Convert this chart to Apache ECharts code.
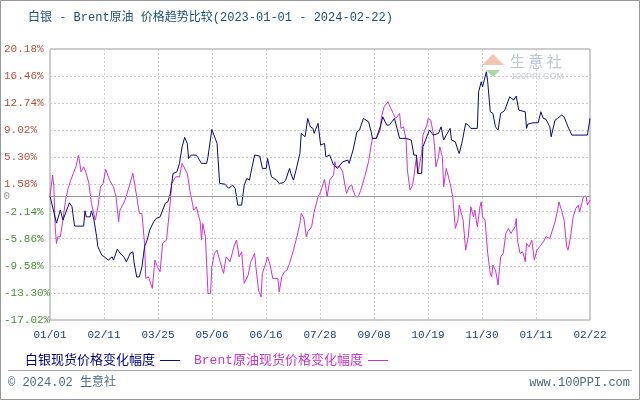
<!DOCTYPE html>
<html>
<head>
<meta charset="utf-8">
<script src="https://cdn.jsdelivr.net/npm/echarts@6/dist/echarts.min.js"></script>
<style>
html,body{margin:0;padding:0;background:#fff;}
#chart{width:640px;height:400px;}
</style>
</head>
<body>
<div id="chart"></div>
<script>
// x values: days since 2023-01-01 (axis runs 2023-01-01 .. 2024-02-22 = day 417)
var xTickLabels = ['01/01','02/11','03/25','05/06','06/16','07/28','09/08','10/19','11/30','01/11','02/22'];
var yMin = -17.02, yMax = 20.18, yStep = 3.72;

var silverName = '白银现货价格变化幅度';
var brentName = 'Brent原油现货价格变化幅度';

var silverDay = [0,1,5,6,8,10,12,15,17,18,19,26,27,28,31,32,34,36,37,40,42,45,48,49,52,54,57,59,62,64,65,67,69,71,73,75,77,80,82,85,89,91,93,95,98,100,102,104,106,107,109,113,117,121,122,125,126,129,131,135,138,141,143,145,148,150,152,154,155,158,162,164,167,168,171,175,177,180,182,185,186,188,190,193,194,197,199,201,203,204,207,209,212,213,216,219,222,226,230,231,234,237,239,242,246,248,249,252,255,257,260,262,266,270,275,279,281,283,284,287,288,291,293,296,300,302,304,306,309,310,313,315,316,318,321,323,325,330,331,333,334,337,338,340,342,344,346,348,351,355,358,360,362,367,368,369,373,377,379,381,383,386,387,390,392,395,397,400,403,415,417];
var silverValue = [0,-0.1,-3.72,-3.72,-1.94,-3.31,-2.35,-0.93,-1.48,-2.86,-4.13,-4.13,-2.03,-2.86,-2.86,-2.03,-3.31,-5.60,-6.97,-8.12,-8.35,-8.80,-8.35,-8.80,-7.29,-7.84,-8.35,-9.03,-7.84,-7.66,-9.21,-11.13,-11.09,-9.72,-6.97,-6.05,-4.68,-3.54,-3.08,-2.86,-1.02,-0.80,0.36,3.10,3.32,4.48,6.76,8.05,7.22,5.16,5.62,5.62,4.48,4.48,5.38,9.14,9.05,7.22,1.73,1.63,1.04,1.50,1.04,-1.25,-1.25,1.50,2.42,2.18,3.10,5.62,5.48,3.79,3.79,5.16,2.64,2.18,1.73,1.81,2.18,3.79,3.10,2.18,3.56,5.85,8.60,8.13,10.65,9.50,9.28,8.60,9.97,6.99,7.22,5.38,5.62,4.24,3.79,4.70,4.93,4.48,6.30,8.81,9.05,10.65,10.19,8.81,7.91,7.91,9.50,10.87,9.73,9.73,10.65,7.91,7.91,7.68,5.62,5.62,3.10,3.10,6.76,8.13,9.05,8.36,8.60,9.50,7.68,8.36,9.28,7.68,7.44,6.30,5.85,7.22,9.97,9.73,9.28,9.28,14.31,15.68,14.99,17.05,15.68,11.56,11.34,9.50,9.05,11.34,11.70,13.62,13.17,13.72,11.79,11.56,9.28,9.87,10.05,10.05,11.56,10.65,10.52,9.50,8.13,10.42,10.65,11.11,10.87,9.50,8.36,8.36,10.65];

var brentDay = [0,2,3,4,5,6,8,10,12,14,16,18,20,22,24,26,28,30,32,35,37,39,41,43,46,49,51,53,54,58,61,64,67,69,71,73,74,76,79,81,83,85,87,90,93,94,97,100,102,106,108,111,113,116,117,118,120,122,124,125,127,129,131,134,136,139,142,144,146,148,150,153,155,158,159,161,163,164,167,168,170,172,176,177,179,181,183,185,188,190,193,194,196,198,199,202,204,206,207,209,211,212,214,216,219,220,221,224,226,228,229,231,233,234,236,238,240,243,246,248,249,252,255,256,258,261,262,265,267,270,271,273,275,276,278,280,281,283,284,285,287,288,289,291,292,294,296,297,298,300,301,303,304,306,307,309,311,313,315,316,319,321,323,325,327,328,330,332,333,334,336,338,340,341,342,344,345,346,348,350,352,354,356,359,360,361,363,365,367,368,370,372,374,376,378,381,383,386,388,390,392,393,395,397,399,400,402,404,406,408,409,412,414,415,417];
var brentValue = [0,2.87,1.26,-4.23,-6.51,-5.60,-5.60,-3.31,-0.56,1.04,2.18,3.10,4.01,5.62,3.32,4.01,3.10,1.73,-1.02,-3.31,-1.48,1.26,1.73,3.65,2.18,1.26,-0.11,-3.54,-1.94,-0.56,1.26,3.10,-0.11,-2.39,-2.39,-6.51,-11.31,-11.09,-12.69,-8.80,-9.72,-10.41,-6.51,-6.05,-0.56,1.73,2.64,2.64,4.48,3.10,0.81,-1.94,-1.48,-3.54,-6.05,-3.76,-5.60,-13.37,-13.37,-9.72,-7.88,-7.43,-8.80,-10.63,-8.35,-9.03,-6.97,-6.05,-8.35,-7.66,-12.00,-10.86,-9.03,-7.88,-9.72,-12.92,-13.84,-10.63,-9.03,-8.35,-9.49,-11.31,-11.31,-13.15,-11.09,-10.41,-10.17,-9.25,-7.43,-6.05,-3.76,-2.39,-3.03,-5.64,-4.92,-4.23,-2.17,-0.80,-0.11,0.58,1.73,2.28,-0.11,2.18,2.87,4.70,4.01,4.01,3.32,1.26,0.36,1.26,1.50,0.81,-0.11,-0.11,0.81,2.64,4.70,6.99,7.91,7.91,9.05,10.87,12.25,12.93,12.48,11.34,10.65,11.34,9.28,9.50,7.68,3.56,0.81,1.50,2.64,5.38,3.10,2.87,5.85,8.36,8.81,9.73,10.65,10.42,8.60,6.76,4.01,5.38,6.76,5.38,1.26,3.79,4.01,1.73,-0.11,-4.45,-3.31,-1.25,-3.31,-7.43,-5.60,-1.48,-2.86,-1.94,-4.23,-1.48,-0.80,-2.86,-3.31,-7.88,-10.63,-11.09,-9.49,-10.17,-11.09,-12.23,-8.35,-7.88,-5.14,-4.45,-5.14,-4.23,-3.08,-6.05,-7.88,-7.66,-9.03,-6.51,-6.97,-6.05,-8.80,-7.43,-6.97,-6.29,-5.60,-5.82,-4.68,-3.54,-1.94,-0.80,-1.94,-3.31,-6.97,-7.43,-5.60,-2.86,-1.70,-1.25,-2.17,-0.11,-0.01,-1.25,-0.56];

function pairs(xs, ys){ var out=[]; for(var i=0;i<xs.length;i++){ out.push([xs[i], ys[i]]); } return out; }

var chart = echarts.init(document.getElementById('chart'), null, {renderer:'canvas'});
var monoCJK = '"Liberation Mono", "Noto Sans CJK SC", monospace';
var option = {
  animation: false,
  backgroundColor: '#fff',
  title: {
    text: '白银 - Brent原油 价格趋势比较(2023-01-01 - 2024-02-22)',
    left: 23, top: 7,
    textStyle: {fontSize: 12, fontWeight: 'normal', color: '#1d4f6e', fontFamily: monoCJK}
  },
  legend: {
    left: 20, top: 349,
    align: 'right',
    itemGap: 14,
    itemWidth: 20, itemHeight: 1,
    icon: 'rect',
    textStyle: {fontSize: 13, fontFamily: monoCJK},
    data: [
      {name: silverName, textStyle: {color: '#000080'}},
      {name: brentName, textStyle: {color: '#cc33cc'}}
    ]
  },
  grid: {
    left: 50, right: 50, top: 49, bottom: 80,
    show: true, borderColor: '#999', borderWidth: 1, backgroundColor: '#fff'
  },
  xAxis: {
    type: 'value', min: 0, max: 417, interval: 41.7,
    axisLine: {show: true, lineStyle: {color: '#999'}},
    axisTick: {show: false},
    axisLabel: {
      margin: 10, fontSize: 11, color: '#1d3f6e', fontFamily: '"Liberation Mono", monospace',
      formatter: function(v){ return xTickLabels[Math.round(v/41.7)] || ''; }
    },
    splitLine: {show: true, lineStyle: {color: '#ccc', type: [2,2]}}
  },
  yAxis: {
    type: 'value', min: yMin, max: yMax, interval: yStep,
    axisLine: {show: false},
    axisTick: {show: false},
    axisLabel: {
      align: 'left', margin: 46, fontSize: 11, fontFamily: '"Liberation Mono", monospace',
      formatter: function(v){ return v.toFixed(2) + '%'; },
      color: function(v){ return parseFloat(v) < 0 ? '#4f8a3c' : '#b0503e'; }
    },
    splitLine: {show: true, lineStyle: {color: '#ccc', type: [2,2]}}
  },
  graphic: [
    {type: 'rect', shape: {x: 0.5, y: 0.5, width: 639, height: 399}, style: {fill: 'none', stroke: '#999', lineWidth: 1}, silent: true},
    {type: 'line', shape: {x1: 8, y1: 370.5, x2: 632, y2: 370.5}, style: {stroke: '#aaa', lineWidth: 1}},
    {type: 'text', left: 8, top: 377, style: {text: '© 2024.02 生意社', fill: '#4a6a80', font: '12px "Liberation Mono", "Noto Sans CJK SC", monospace'}},
    {type: 'text', right: 10, top: 377, style: {text: 'www.100PPI.com', fill: '#4a6a80', font: '12px "Liberation Mono", monospace'}},
    {type: 'polygon', shape: {points: [[482,65],[493,54],[504,65]]}, style: {fill: '#f2c4b4'}, z: 0},
    {type: 'polygon', shape: {points: [[486,70],[493,77],[500,70]]}, style: {fill: '#a8d8a0'}, z: 0},
    {type: 'text', left: 510, top: 54, style: {text: '生 意 社', fill: '#b9c6d3', font: '15px "Noto Sans CJK SC"'}, z: 0},
    {type: 'text', left: 511, top: 72, style: {text: '100PPI.COM', fill: '#c5cfd9', font: '9px "Liberation Sans"'}, z: 0}
  ],
  series: [
    {
      name: silverName, type: 'line', data: pairs(silverDay, silverValue),
      showSymbol: false, symbol: 'none',
      lineStyle: {color: '#0a0a70', width: 1}, itemStyle: {color: '#0a0a70'},
      z: 3,
      markLine: {
        silent: true, symbol: 'none',
        lineStyle: {color: '#999', type: 'solid', width: 1},
        label: {show: true, position: 'start', distance: 40, formatter: '0', color: '#999', fontSize: 11, fontFamily: '"Liberation Mono", monospace'},
        data: [{yAxis: 0}]
      }
    },
    {
      name: brentName, type: 'line', data: pairs(brentDay, brentValue),
      showSymbol: false, symbol: 'none',
      lineStyle: {color: '#cc33cc', width: 1}, itemStyle: {color: '#cc33cc'},
      z: 2
    }
  ]
};
chart.setOption(option);
</script>
</body>
</html>
